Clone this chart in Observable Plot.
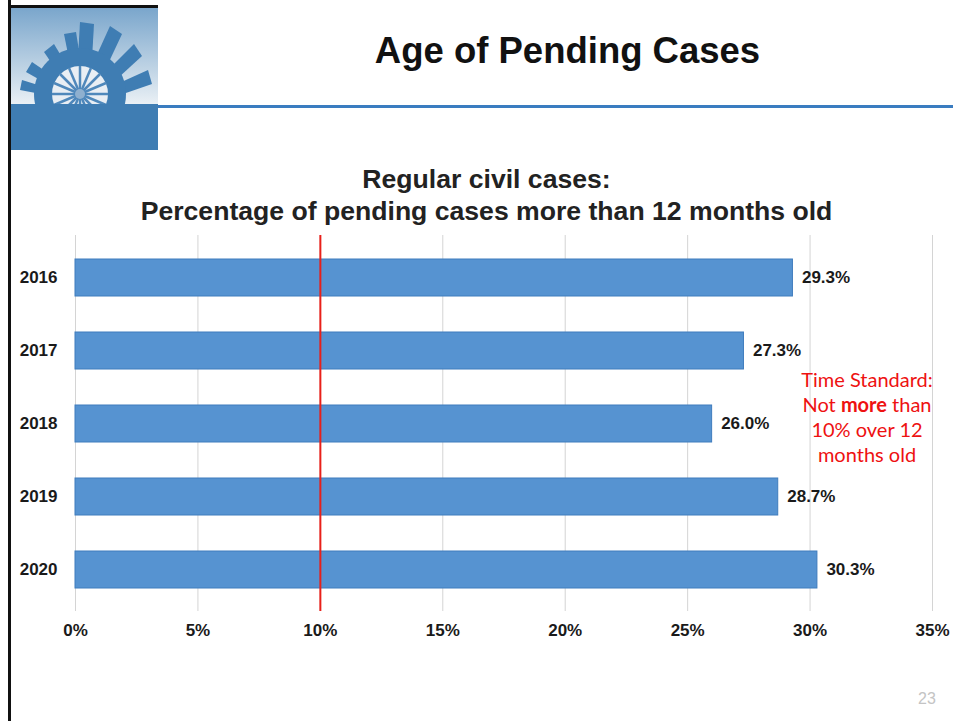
<!DOCTYPE html>
<html>
<head>
<meta charset="utf-8">
<script src="https://cdn.jsdelivr.net/npm/d3@7"></script>
<script src="https://cdn.jsdelivr.net/npm/@observablehq/plot@0.6"></script>
<style>
  html, body { margin: 0; padding: 0; background: #fff; }
  #page { position: relative; width: 953px; height: 721px; overflow: hidden; font-family: "Liberation Sans", Arial, sans-serif; }
  #leftborder { position: absolute; left: 8px; top: 0; width: 3px; height: 721px; background: #111; }
  #topborder { position: absolute; left: 8px; top: 5px; width: 150px; height: 3px; background: #111; }
  #logo { position: absolute; left: 10px; top: 8px; width: 148px; height: 142px; }
  #rule { position: absolute; left: 158px; top: 105px; width: 795px; height: 3px; background: #3a7cc0; }
  #title { position: absolute; left: 170px; width: 795px; top: 30px; text-align: center; font-weight: bold; font-size: 36.5px; color: #111; }
  #subtitle { position: absolute; left: 0; width: 973px; top: 163px; text-align: center; font-weight: bold; font-size: 26.6px; line-height: 32px; color: #222; }
  #chart { position: absolute; left: 0; top: 220px; }
  #note { position: absolute; left: 776px; width: 182px; top: 367px; text-align: center; color: #ee1111; font-family: Lato, "Open Sans", sans-serif; font-size: 20px; line-height: 25px; }
  #pagenum { position: absolute; left: 918px; top: 690px; color: #c4c4c4; font-size: 16px; }
</style>
</head>
<body>
<div id="page">
  <svg id="logo" viewBox="0 0 148 142" width="148" height="142">
    <defs>
      <linearGradient id="sky" x1="0" y1="0" x2="0" y2="1">
        <stop offset="0" stop-color="#7aa6cc"/>
        <stop offset="0.45" stop-color="#c3d6e6"/>
        <stop offset="0.7" stop-color="#eef3f7"/>
      </linearGradient>
    </defs>
    <rect x="0" y="0" width="148" height="142" fill="url(#sky)"/>
    <g fill="#3f7db3">
      <polygon points="66,84 70,14 84,16 80,86"/>
      <polygon points="70,84 100,18 112,26 82,90"/>
      <polygon points="74,86 124,36 132,48 84,92"/>
      <polygon points="76,90 138,62 142,76 84,96"/>
      <polygon points="66,86 54,26 66,24 76,86"/>
      <polygon points="64,88 34,44 44,36 74,86"/>
      <polygon points="62,90 16,64 22,54 72,88"/>
      <polygon points="62,92 10,82 12,72 70,90"/>
    </g>
    <circle cx="70" cy="86" r="46" fill="#3f7db3"/>
    <circle cx="70" cy="86" r="28" fill="#e8eef4"/>
    <g stroke="#4f88bb" stroke-width="2.5">
      <line x1="42" y1="86" x2="98" y2="86"/>
      <line x1="70" y1="58" x2="70" y2="114"/>
      <line x1="50" y1="66" x2="90" y2="106"/>
      <line x1="90" y1="66" x2="50" y2="106"/>
      <line x1="44" y1="75" x2="96" y2="97"/>
      <line x1="44" y1="97" x2="96" y2="75"/>
      <line x1="59" y1="60" x2="81" y2="112"/>
      <line x1="81" y1="60" x2="59" y2="112"/>
    </g>
    <circle cx="70" cy="86" r="5" fill="#8fb0cf"/>
    <rect x="0" y="96" width="148" height="46" fill="#3f7db3"/>
  </svg>
  <div id="topborder"></div>
  <div id="leftborder"></div>
  <div id="rule"></div>
  <div id="title">Age of Pending Cases</div>
  <div id="subtitle">Regular civil cases:<br>Percentage of pending cases more than 12 months old</div>
  <div id="chart"></div>
  <div id="note">Time Standard:<br>Not <b>more</b> than<br>10% over 12<br>months old</div>
  <div id="pagenum">23</div>
</div>
<script>
const years = ["2016", "2017", "2018", "2019", "2020"];
const values = [29.3, 27.3, 26.0, 28.7, 30.3];
const xTicks = [0, 5, 10, 15, 20, 25, 30, 35];
const standard = 10;

const data = years.map((y, i) => ({year: y, value: values[i]}));

const chart = Plot.plot({
  width: 953,
  height: 426,
  marginTop: 15,
  marginBottom: 35,
  marginLeft: 75,
  marginRight: 21,
  style: {fontFamily: "'Liberation Sans', Arial, sans-serif", fontSize: "17px", fontWeight: "bold", color: "#1a1a1a", background: "transparent"},
  x: {domain: [0, 35], ticks: xTicks, tickFormat: d => d + "%", label: null},
  y: {domain: years, paddingInner: 0.497, paddingOuter: 0.313, label: null},
  marks: [
    Plot.gridX(xTicks, {stroke: "#d4d4d4", strokeOpacity: 1, strokeWidth: 1}),
    Plot.barX(data, {x: "value", y: "year", fill: "#5693d1", stroke: "#3f7cbd", strokeWidth: 1}),
    Plot.text(data, {x: "value", y: "year", text: d => d.value.toFixed(1) + "%", textAnchor: "start", dx: 9, fontSize: 17, fontWeight: "bold", fill: "#1a1a1a"}),
    Plot.ruleX([standard], {stroke: "#e8201a", strokeWidth: 2}),
    Plot.axisX(xTicks, {tickSize: 0, tickPadding: 12, tickFormat: d => d + "%", fontSize: 17, fontWeight: "bold", label: null}),
    Plot.axisY({tickSize: 0, tickPadding: 18, fontSize: 17, fontWeight: "bold", label: null})
  ]
});
document.getElementById("chart").appendChild(chart);
</script>
</body>
</html>
